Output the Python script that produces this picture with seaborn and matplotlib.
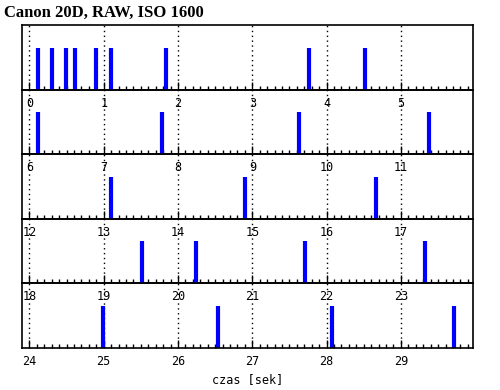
import matplotlib
matplotlib.use("Agg")
import matplotlib.pyplot as plt
import seaborn as sns
import numpy as np

# moments of exposures (seconds)
event_times = [0.11, 0.30, 0.49, 0.61, 0.89, 1.10, 1.84, 3.76, 4.52,
               6.11, 7.78, 9.63, 11.38,
               13.10, 14.90, 16.67,
               19.51, 20.24, 21.71, 23.33,
               24.99, 26.54, 28.07, 29.72]
row_starts = [0, 6, 12, 18, 24]
title = "Canon 20D, RAW, ISO 1600"
x_label = "czas [sek]"


def main():
    sns.set_style("white")
    plt.rcParams["font.family"] = ["DejaVu Sans Mono"]
    plt.rcParams["text.color"] = "black"
    plt.rcParams["axes.labelcolor"] = "black"
    plt.rcParams["xtick.color"] = "black"

    fig = plt.figure(figsize=(5, 3.9), dpi=100)
    left, right, top, bottom = 22 / 500, 473 / 500, 1 - 25 / 390, 1 - 348 / 390
    h = (top - bottom) / len(row_starts)

    times = np.array(event_times)
    for i, start in enumerate(row_starts):
        ax = fig.add_axes([left, top - (i + 1) * h, right - left, h])
        ax.set_facecolor("none")
        ax.set_zorder(10 - i)
        sel = times[(times >= start) & (times < start + 6)]
        sns.rugplot(x=sel, height=0.65, linewidth=3, color="#0000ff",
                    expand_margins=False, ax=ax)
        ax.set_xlim(start - 0.1, start + 5.97)
        ax.set_ylim(0, 1)
        ax.set_xticks(np.arange(start, start + 6))
        ax.set_xticklabels([str(v) for v in range(start, start + 6)], fontsize=8.5)
        ax.set_xticks(np.arange(start, start + 6, 0.1), minor=True)
        ax.set_yticks([])
        ax.tick_params(axis="x", which="major", direction="in", length=6,
                       width=1, pad=5, bottom=True, top=False,
                       colors="black", labelcolor="black")
        ax.tick_params(axis="x", which="minor", direction="in", length=3,
                       width=1, bottom=True, top=False, colors="black")
        ax.grid(True, axis="x", which="major", color="black",
                linestyle=(0, (1, 2.5)), linewidth=1)
        for s in ax.spines.values():
            s.set_color("black")
            s.set_linewidth(1.2)
        if i == len(row_starts) - 1:
            ax.set_xlabel(x_label, fontsize=8.5, labelpad=4, color="black")

    fig.text(4 / 500, 1 - 13 / 390, title, fontsize=12, fontweight="bold",
             family="Liberation Serif", va="center", ha="left", color="black")
    fig.savefig("out.png", dpi=100)


if __name__ == "__main__":
    main()
